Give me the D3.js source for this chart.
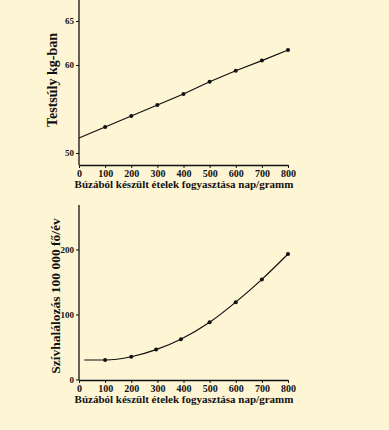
<!DOCTYPE html>
<html><head><meta charset="utf-8">
<script src="https://cdn.jsdelivr.net/npm/d3@7"></script>
<style>
html,body{margin:0;padding:0;background:#FDF5D3;}
svg{display:block;}
text{font-family:"Liberation Serif","Times New Roman",serif;font-weight:bold;fill:#111;}
</style></head><body>
<script>
const xTicks = [0,100,200,300,400,500,600,700,800];
const weightTicks = [50,60,65];
const weightX = [0,100,200,300,400,500,600,700,800];
const weightY = [51.7,52.95,54.2,55.45,56.7,58.1,59.35,60.5,61.7];
const heartTicks = [0,100,200];
const heartLineX = [20,100,200,295,390,500,600,700,800];
const heartLineY = [30,30,35,46,62,88,119,154,193];
const heartPointX = [100,200,295,390,500,600,700,800];
const heartPointY = [30,35,46,62,88,119,154,193];
const xLabel = "Búzából készült ételek fogyasztása nap/gramm";
const weightLabel = "Testsúly kg-ban";
const heartLabel = "Szívhalálozás 100 000 fő/év";

const W = 389, H = 430;
const svg = d3.select("body").append("svg").attr("width", W).attr("height", H);
svg.append("rect").attr("width", W).attr("height", H).attr("fill", "#FDF5D3");

function panel(cfg){
  const g = svg.append("g");
  const x = d3.scaleLinear().domain([0,800]).range([79,288]);
  const y = d3.scaleLinear().domain(cfg.yDomain).range(cfg.yRange);
  const ya = d3.axisLeft(y).tickValues(cfg.yTicks).tickSize(3).tickPadding(2);
  const yg = g.append("g").attr("transform","translate(79,0)").call(ya);
  yg.select(".domain").remove();
  g.append("line").attr("x1",79).attr("x2",79).attr("y1",cfg.axisTop).attr("y2",cfg.axisBottom)
    .attr("stroke","#111").attr("stroke-width",1.3);
  yg.selectAll("text").style("font-size","9px");
  yg.selectAll("line").attr("stroke","#111");
  const xa = d3.axisBottom(x).tickValues(xTicks).tickSize(3).tickPadding(2).tickSizeOuter(0);
  const xg = g.append("g").attr("transform",`translate(0,${cfg.axisBottom})`).call(xa);
  xg.select(".domain").attr("stroke","#111").attr("stroke-width",1.3);
  xg.selectAll("line").attr("stroke","#111");
  xg.selectAll("text").style("font-size","10px");
  g.append("text").attr("x",184).attr("y",cfg.axisBottom+23).attr("text-anchor","middle")
    .style("font-size","11px").text(xLabel);
  g.append("text").attr("transform",`translate(${cfg.labelX},${cfg.labelY}) rotate(-90)`).attr("text-anchor","middle")
    .style("font-size",cfg.labelSize).text(cfg.yLabel);
  const pts = cfg.lx.map((v,i)=>[v,cfg.ly[i]]);
  g.append("path").datum(pts)
    .attr("d", d3.line().x(d=>x(d[0])).y(d=>y(d[1])).curve(cfg.curve))
    .attr("fill","none").attr("stroke","#111").attr("stroke-width",1.2);
  g.selectAll("circle.p").data(cfg.px.map((v,i)=>[v,cfg.py[i]])).enter().append("circle")
    .attr("cx",d=>x(d[0])).attr("cy",d=>y(d[1])).attr("r",2).attr("fill","#111");
}

panel({yDomain:[50,65], yRange:[153,21], yTicks:weightTicks, axisTop:0, axisBottom:165,
  labelX:57, labelY:80, labelSize:"14px", yLabel:weightLabel, lx:weightX, ly:weightY,
  px:weightX.slice(1), py:weightY.slice(1), curve:d3.curveLinear});
panel({yDomain:[0,200], yRange:[379.5,249.5], yTicks:heartTicks, axisTop:205, axisBottom:380,
  labelX:60, labelY:296, labelSize:"13.5px", yLabel:heartLabel, lx:heartLineX, ly:heartLineY,
  px:heartPointX, py:heartPointY, curve:d3.curveMonotoneX});
</script>
</body></html>
